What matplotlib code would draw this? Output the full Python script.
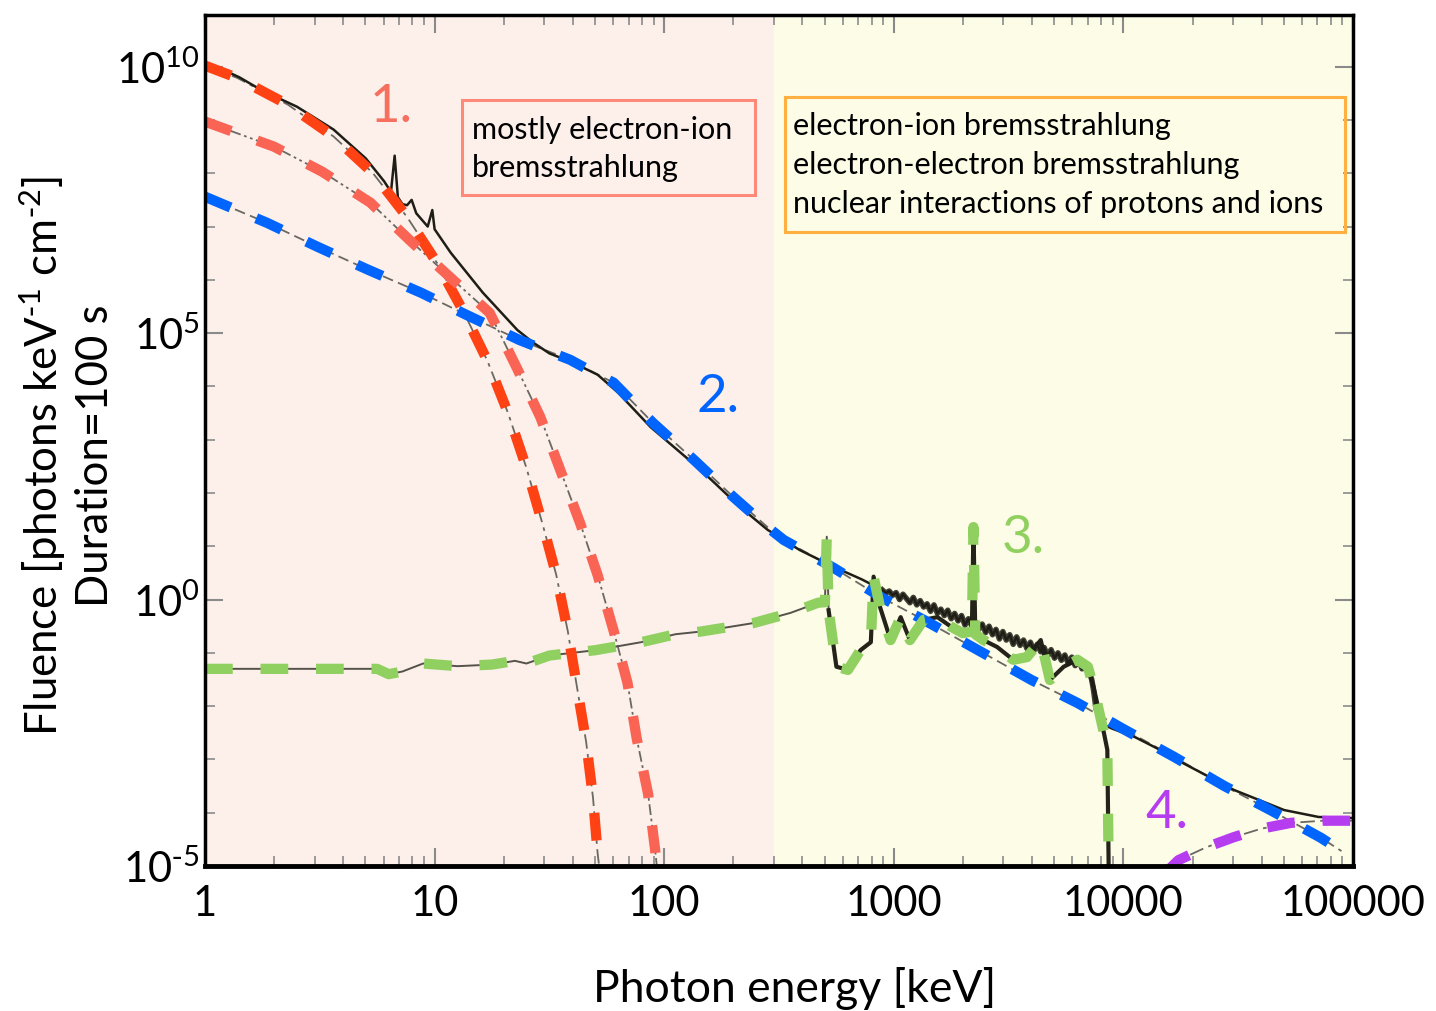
import numpy as np
import matplotlib.pyplot as plt
from matplotlib.patches import Rectangle
from matplotlib.ticker import FixedLocator, NullFormatter

plt.rcParams['font.family'] = ['Lato', 'DejaVu Sans']
plt.rcParams['mathtext.default'] = 'regular'

# spectra: log10(E / keV) and log10(fluence)
total_lgE = [0.00, 0.05, 0.15, 0.25, 0.40, 0.56, 0.70, 0.78, 0.81, 0.826, 0.84, 0.86, 0.88, 0.90,
             0.92, 0.97, 0.99, 1.00, 1.07, 1.21, 1.36, 1.43, 1.50, 1.60, 1.71, 1.80, 1.94, 2.16,
             2.33, 2.45, 2.59, 2.74, 2.86,
             2.950, 2.965, 2.980, 2.995, 3.010, 3.025, 3.040, 3.055, 3.070, 3.085, 3.100, 3.115,
             3.130, 3.145, 3.160, 3.175, 3.190, 3.205, 3.220, 3.235, 3.250, 3.265, 3.280, 3.295,
             3.310, 3.325, 3.340, 3.355, 3.370, 3.385, 3.400, 3.415, 3.430, 3.445, 3.460, 3.475,
             3.490, 3.505, 3.520, 3.535, 3.550, 3.565, 3.580, 3.595, 3.610, 3.625, 3.640, 3.655,
             3.670, 3.685, 3.700, 3.715, 3.730, 3.745, 3.760, 3.775, 3.790, 3.805, 3.820, 3.835,
             3.850, 3.862, 3.870, 3.880,
             3.90, 3.95, 4.00, 4.05, 4.15, 4.26, 4.48, 4.70, 4.85, 5.00]
total_lgF = [10.02, 10.00, 9.80, 9.55, 9.25, 8.82, 8.28, 7.85, 7.65, 8.33, 7.55, 7.42, 7.40, 7.50,
             7.25, 7.00, 7.31, 6.95, 6.51, 5.76, 5.06, 4.82, 4.62, 4.45, 4.22, 3.88, 3.24, 2.43,
             1.74, 1.31, 0.93, 0.61, 0.38,
             0.18, 0.12, 0.16, 0.08, 0.13, 0.00, 0.10, 0.02, -0.06, 0.04, -0.10, -0.02,
             -0.14, -0.08, -0.22, -0.10, -0.26, -0.18, -0.30, -0.20, -0.36, -0.26, -0.40, -0.30,
             -0.48, -0.36, -0.50, -0.42, -0.56, -0.46, -0.62, -0.50, -0.66, -0.56, -0.74, -0.60,
             -0.76, -0.66, -0.84, -0.70, -0.86, -0.76, -0.92, -0.80, -0.96, -0.84, -0.98, -0.90,
             -1.06, -0.94, -1.10, -1.00, -1.14, -1.04, -1.20, -1.08, -1.24, -1.12, -1.30, -1.20,
             -1.34, -1.50, -1.70, -2.02,
             -2.32, -2.42, -2.50, -2.58, -2.80, -3.07, -3.57, -3.95, -4.08, -4.10]

# 1. electron-ion bremsstrahlung (two fits)
red_lgE = [0.00, 0.14, 0.36, 0.56, 0.73, 0.88, 1.01, 1.125, 1.23, 1.32, 1.40, 1.47, 1.53, 1.58,
           1.62, 1.66, 1.69, 1.71, 1.73]
red_lgF = [10.02, 9.79, 9.29, 8.69, 8.01, 7.18, 6.32, 5.41, 4.48, 3.50, 2.47, 1.42, 0.46, -0.59,
           -1.64, -2.67, -3.72, -4.76, -5.50]
salmon_lgE = [0.00, 0.30, 0.51, 0.72, 0.89, 1.08, 1.24, 1.36, 1.46, 1.55, 1.635, 1.71, 1.78, 1.84,
              1.88, 1.93, 1.96, 1.98]
salmon_lgF = [8.97, 8.50, 8.03, 7.45, 6.75, 6.00, 5.38, 4.33, 3.43, 2.40, 1.42, 0.46, -0.59, -1.56,
              -2.60, -3.65, -4.68, -5.50]

# 2. electron-electron bremsstrahlung
blue_lgE = [0.00, 0.27, 0.49, 0.71, 0.94, 1.14, 1.37, 1.59, 1.71, 1.78, 1.95, 2.13, 2.30, 2.45,
            2.52, 2.74, 2.95, 3.13, 3.60, 3.80, 4.00, 4.22, 4.44, 4.64, 4.86, 4.95]
blue_lgF = [7.56, 7.07, 6.62, 6.19, 5.76, 5.34, 4.87, 4.50, 4.22, 4.07, 3.32, 2.62, 1.93, 1.36,
            1.12, 0.59, 0.03, -0.38, -1.51, -1.94, -2.43, -2.95, -3.50, -3.95, -4.47, -4.72]

# 3. nuclear interactions (continuum + lines)
green_lgE = [0.00, 0.40, 0.75, 0.80, 0.86, 0.95, 1.10, 1.25, 1.35, 1.40, 1.50, 1.70, 1.90, 2.05,
             2.16, 2.39, 2.55, 2.67, 2.70, 2.708, 2.716, 2.75, 2.80, 2.855, 2.90, 2.912, 2.94, 2.986,
             3.03, 3.07, 3.13, 3.19, 3.25, 3.30, 3.340, 3.347, 3.355, 3.39, 3.45, 3.52, 3.58, 3.64,
             3.68, 3.74, 3.80, 3.845, 3.87, 3.915, 3.93, 3.937]
green_lgF = [-1.30, -1.30, -1.30, -1.40, -1.35, -1.20, -1.25, -1.22, -1.15, -1.20, -1.05, -0.95, -0.80, -0.65,
             -0.60, -0.44, -0.25, -0.06, -0.05, 1.18, -0.20, -1.26, -1.32, -0.95, -0.80, 0.43, -0.14, -0.76,
             -0.33, -0.76, -0.38, -0.33, -0.51, -0.63, -0.60, 1.36, -0.65, -0.76, -0.89, -1.13, -1.08, -0.76,
             -1.51, -1.26, -1.13, -1.26, -1.64, -2.50, -2.82, -5.50]

# 4. pion decay
purple_lgE = [4.19, 4.24, 4.36, 4.48, 4.60, 4.73, 4.87, 5.00]
purple_lgF = [-5.10, -4.89, -4.65, -4.46, -4.30, -4.19, -4.15, -4.15]

x_ticks = [1, 10, 100, 1000, 10000, 100000]
x_ticklabels = ['1', '10', '100', '1000', '10000', '100000']
y_ticks = [1e-5, 1e0, 1e5, 1e10]
y_ticklabels = [r'$10^{\text{-}5}$', '$10^{0}$', '$10^{5}$', '$10^{10}$']


def pts(lge, lgf):
    return 10 ** np.array(lge), 10 ** np.array(lgf)


fig = plt.figure(figsize=(14.36, 10.11), dpi=100)
ax = fig.add_axes([205 / 1436, 145 / 1011, 1148 / 1436, 851 / 1011])
ax.set_xscale('log')
ax.set_yscale('log')
ax.set_xlim(1, 1e5)
ax.set_ylim(1e-5, 10 ** 10.97)

# shaded energy ranges
ax.axvspan(1, 300, color='#fdf0eb', zorder=0, lw=0)
ax.axvspan(300, 1e5, color='#fdfce6', zorder=0, lw=0)

# thin curves underneath the coloured fits
grey = '#6a6862'
ax.plot(*pts(red_lgE, red_lgF), color=grey, lw=1.3, ls=(0, (8, 3, 2, 3)), zorder=2)
ax.plot(*pts(salmon_lgE, salmon_lgF), color=grey, lw=1.3, ls=(0, (6, 2, 1.5, 2, 1.5, 2)), zorder=2)
ax.plot(*pts(blue_lgE, blue_lgF), color=grey, lw=1.3, ls=(0, (6, 3)), zorder=2)
ax.plot(*pts(purple_lgE, purple_lgF), color=grey, lw=1.3, ls=(0, (8, 3, 2, 3)), zorder=2)
gE, gF = pts(green_lgE, green_lgF)
ax.plot(gE, gF, color='#55524a', lw=1.4, zorder=2)
nuc = np.array(green_lgE) >= 2.716
ax.plot(gE[nuc], gF[nuc], color='#24231a', lw=3.0, zorder=2)

# total spectrum, drawn heavier where it is noisy
tE, tF = pts(total_lgE, total_lgF)
ax.plot(tE, tF, color='#1e1e16', lw=1.8, zorder=3)
noisy = (np.array(total_lgE) >= 2.95) & (np.array(total_lgE) <= 3.88)
ax.plot(tE[noisy], tF[noisy], color='#1e1e16', lw=4, alpha=0.85, zorder=3)

# coloured dashed fits
dash = (0, (2.7, 2.7))
lw = 7.4
ax.plot(*pts(red_lgE, red_lgF), color='#ff4214', lw=lw, ls=dash, zorder=4)
ax.plot(*pts(salmon_lgE, salmon_lgF), color='#fa6455', lw=lw, ls=dash, zorder=4)
ax.plot(*pts(blue_lgE, blue_lgF), color='#0064ff', lw=lw, ls=dash, zorder=5)
ax.plot(gE, gF, color='#90d060', lw=lw, ls=dash, zorder=6)
ax.plot(*pts(purple_lgE, purple_lgF), color='#b63cf0', lw=lw, ls=dash, zorder=4)

# component numbers
ax.text(6.47, 9.3e8, '1.', color='#f7705f', fontsize=38, ha='center', va='baseline', zorder=7)
ax.text(172, 3.3e3, '2.', color='#0064ff', fontsize=38, ha='center', va='baseline', zorder=7)
ax.text(3680, 7.5, '3.', color='#8fd05e', fontsize=38, ha='center', va='baseline', zorder=7)
ax.text(15460, 5.2e-5, '4.', color='#b63cf0', fontsize=38, ha='center', va='baseline', zorder=7)

# process boxes
box_fs = 22
ax.add_patch(Rectangle((0.224, 0.788), 0.255, 0.112, transform=ax.transAxes, fill=False,
                       ec='#ff8a7a', lw=2.2, zorder=7))
ax.text(0.2326, 0.8649, 'mostly electron-ion', transform=ax.transAxes, fontsize=box_fs,
        ha='left', va='center', zorder=7)
ax.text(0.2326, 0.8202, 'bremsstrahlung', transform=ax.transAxes, fontsize=box_fs,
        ha='left', va='center', zorder=7)
ax.add_patch(Rectangle((0.505, 0.745), 0.488, 0.159, transform=ax.transAxes, fill=False,
                       ec='#ffb040', lw=2.2, zorder=7))
for txt, yy in [('electron-ion bremsstrahlung', 0.8696),
                ('electron-electron bremsstrahlung', 0.8237),
                ('nuclear interactions of protons and ions', 0.7779)]:
    ax.text(0.5122, yy, txt, transform=ax.transAxes, fontsize=box_fs, ha='left', va='center', zorder=7)

# axes and ticks
ax.xaxis.set_major_locator(FixedLocator(x_ticks))
ax.set_xticklabels(x_ticklabels)
ax.xaxis.set_minor_locator(FixedLocator([m * 10 ** k for k in range(5) for m in range(2, 10)]))
ax.xaxis.set_minor_formatter(NullFormatter())
ax.yaxis.set_major_locator(FixedLocator(y_ticks))
ax.set_yticklabels(y_ticklabels)
ax.yaxis.set_minor_locator(FixedLocator([10.0 ** k for k in range(-5, 11) if k % 5]))
ax.yaxis.set_minor_formatter(NullFormatter())

ax.tick_params(which='both', direction='in', top=True, right=True, color='#8a8a8a')
ax.tick_params(which='major', length=13, width=1.5, labelsize=30)
ax.tick_params(which='minor', length=7, width=1.2)
ax.tick_params(axis='x', which='major', pad=14)
ax.tick_params(axis='y', which='major', pad=4)

for s in ax.spines.values():
    s.set_linewidth(2.5)
    s.set_color('black')
    s.set_zorder(8)
ax.spines['bottom'].set_linewidth(3.5)

fig.text(795 / 1436, 1 - 988 / 1011, 'Photon energy [keV]', fontsize=32, ha='center', va='center')
fig.text(67 / 1436, 1 - 456 / 1011,
         'Fluence [photons keV$^{\\text{-}1}$ cm$^{\\text{-}2}$]\nDuration=100 s',
         fontsize=31.5, rotation=90, ha='center', va='center', ma='center', linespacing=1.22)

fig.savefig('out.png', dpi=100)
